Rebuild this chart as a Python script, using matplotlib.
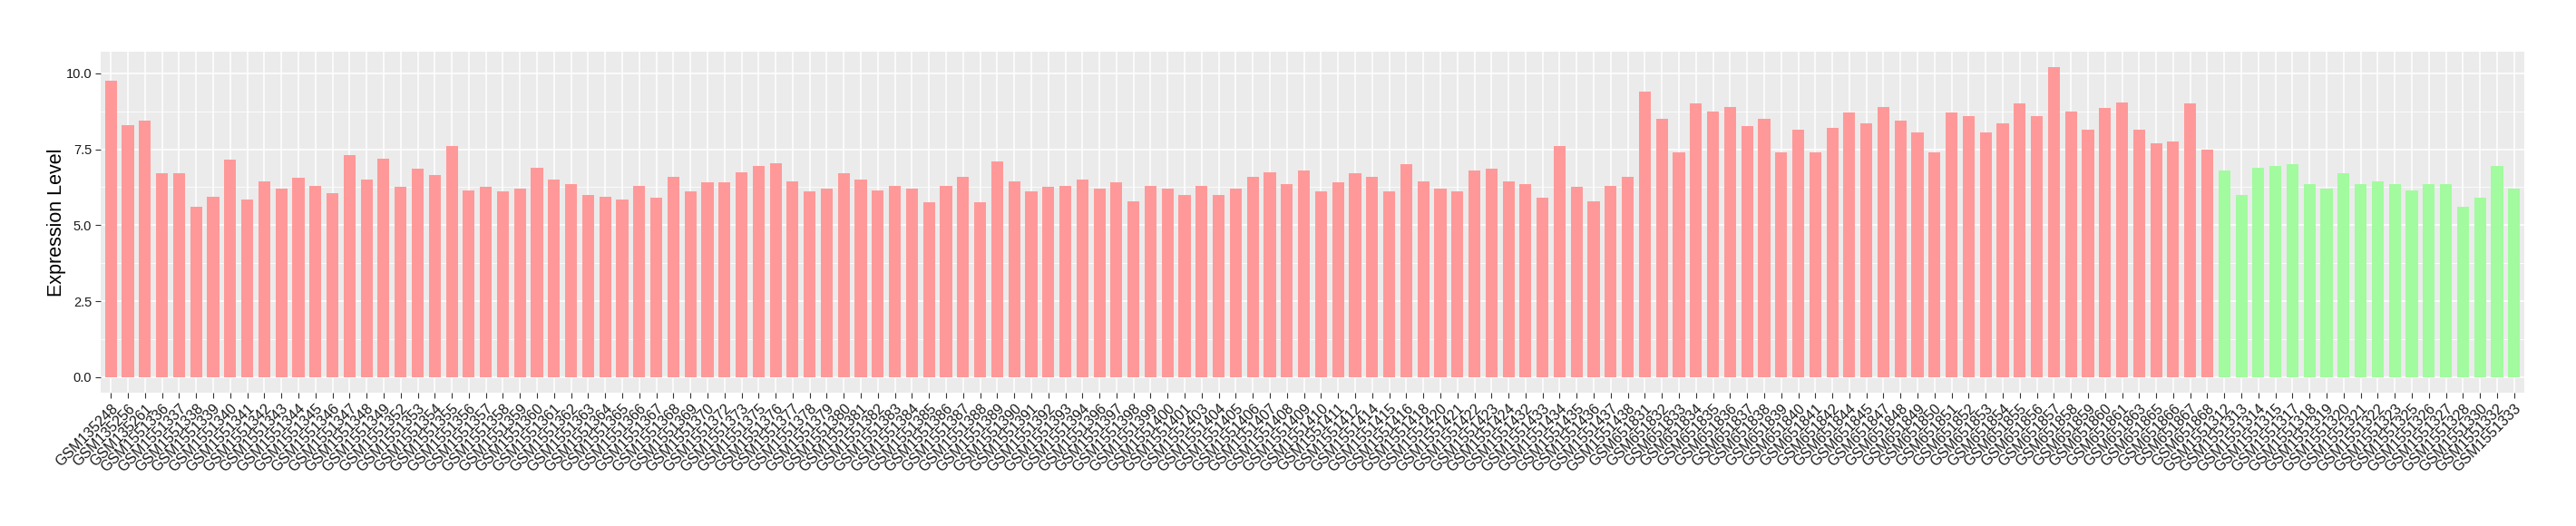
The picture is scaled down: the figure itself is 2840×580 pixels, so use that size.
import numpy as np
import matplotlib
matplotlib.use("Agg")
import matplotlib.pyplot as plt
from matplotlib.ticker import MultipleLocator

# sample ids, grouped as in the reference
group_a_ids = (["GSM135248", "GSM135256", "GSM135261"]
               + ["GSM1551%d" % n for n in
                  [336, 337, 338, 339, 340, 341, 342, 343, 344, 345, 346, 347, 348, 349,
                   352, 353, 354, 355, 356, 357, 358, 359, 360, 361, 362, 363, 364, 365,
                   366, 367, 368, 369, 370, 372, 373, 375, 376, 377, 378, 379, 380, 381,
                   382, 383, 384, 385, 386, 387, 388, 389, 390, 391, 392, 393, 394, 396,
                   397, 398, 399, 400, 401, 403, 404, 405, 406, 407, 408, 409, 410, 411,
                   412, 414, 415, 416, 418, 420, 421, 422, 423, 424, 432, 433, 434, 435,
                   436, 437, 438]]
               + ["GSM65%d" % n for n in
                  [1831, 1832, 1833, 1834, 1835, 1836, 1837, 1838, 1839, 1840, 1841, 1842,
                   1844, 1845, 1847, 1848, 1849, 1850, 1851, 1852, 1853, 1854, 1855, 1856,
                   1857, 1858, 1859, 1860, 1861, 1863, 1865, 1866, 1867, 1868]])

group_b_ids = ["GSM1551%d" % n for n in
               [312, 313, 314, 315, 317, 318, 319, 320, 321, 322, 323, 325, 326, 327,
                328, 330, 332, 333]]

group_a_values = [
    9.75, 8.3, 8.45,
    6.7, 6.7, 5.6, 5.95, 7.15, 5.85, 6.45, 6.2, 6.55, 6.3, 6.05, 7.3, 6.5, 7.2,
    6.25, 6.85, 6.65, 7.6, 6.15, 6.25, 6.1, 6.2, 6.9, 6.5, 6.35, 6.0, 5.95, 5.85,
    6.3, 5.9, 6.6, 6.1, 6.4, 6.4, 6.75, 6.95, 7.05, 6.45, 6.1, 6.2, 6.7, 6.5,
    6.15, 6.3, 6.2, 5.75, 6.3, 6.6, 5.75, 7.1, 6.45, 6.1, 6.25, 6.3, 6.5, 6.2,
    6.4, 5.8, 6.3, 6.2, 6.0, 6.3, 6.0, 6.2, 6.6, 6.75, 6.35, 6.8, 6.1, 6.4,
    6.7, 6.6, 6.1, 7.0, 6.45, 6.2, 6.1, 6.8, 6.85, 6.45, 6.35, 5.9, 7.6, 6.25,
    5.8, 6.3, 6.6,
    9.4, 8.5, 7.4, 9.0, 8.75, 8.9, 8.25, 8.5, 7.4, 8.15, 7.4, 8.2, 8.7, 8.35,
    8.9, 8.45, 8.05, 7.4, 8.7, 8.6, 8.05, 8.35, 9.0, 8.6, 10.2, 8.75, 8.15, 8.85,
    9.05, 8.15, 7.7, 7.75, 9.0, 7.5,
]

group_b_values = [6.8, 6.0, 6.9, 6.95, 7.0, 6.35, 6.2, 6.7, 6.35, 6.45, 6.35, 6.15,
                  6.35, 6.35, 5.6, 5.9, 6.95, 6.2]

labels = group_a_ids + group_b_ids
values = group_a_values + group_b_values
colors = ["#FF9999"] * len(group_a_ids) + ["#A2FB9F"] * len(group_b_ids)

plt.rcParams["font.family"] = ["Liberation Sans", "DejaVu Sans"]

W, H = 2840, 580
fig = plt.figure(figsize=(W / 100, H / 100), dpi=100)
ax = fig.add_axes([111 / W, (H - 433) / H, (2783 - 111) / W, (433 - 57) / H])

x = np.arange(1, len(values) + 1)
ax.bar(x, values, width=0.7, color=colors, zorder=3)

ax.set_facecolor("#EBEBEB")
ax.set_xlim(0.4, len(values) + 0.6)
ax.set_ylim(-0.51, 10.71)
ax.yaxis.set_major_locator(MultipleLocator(2.5))
ax.yaxis.set_minor_locator(MultipleLocator(1.25))
ax.grid(which="major", color="white", linewidth=1.1, zorder=0)
ax.grid(which="minor", axis="y", color="white", linewidth=0.55, zorder=0)
ax.set_axisbelow(True)
for s in ax.spines.values():
    s.set_visible(False)

ax.set_xticks(x)
ax.set_xticklabels(labels, rotation=45, ha="right", va="top",
                   rotation_mode="anchor", fontsize=11.5, color="#1A1A1A")
ax.set_yticks([0, 2.5, 5, 7.5, 10])
ax.set_yticklabels(["0.0", "2.5", "5.0", "7.5", "10.0"], fontsize=10.5, color="#1A1A1A")
ax.tick_params(axis="both", which="major", length=4, width=0.8, color="#333333", pad=3)
ax.tick_params(axis="y", which="minor", length=0)

ax.set_ylabel("Expression Level", fontsize=15.5, labelpad=0)

fig.savefig("out.png", dpi=100)
